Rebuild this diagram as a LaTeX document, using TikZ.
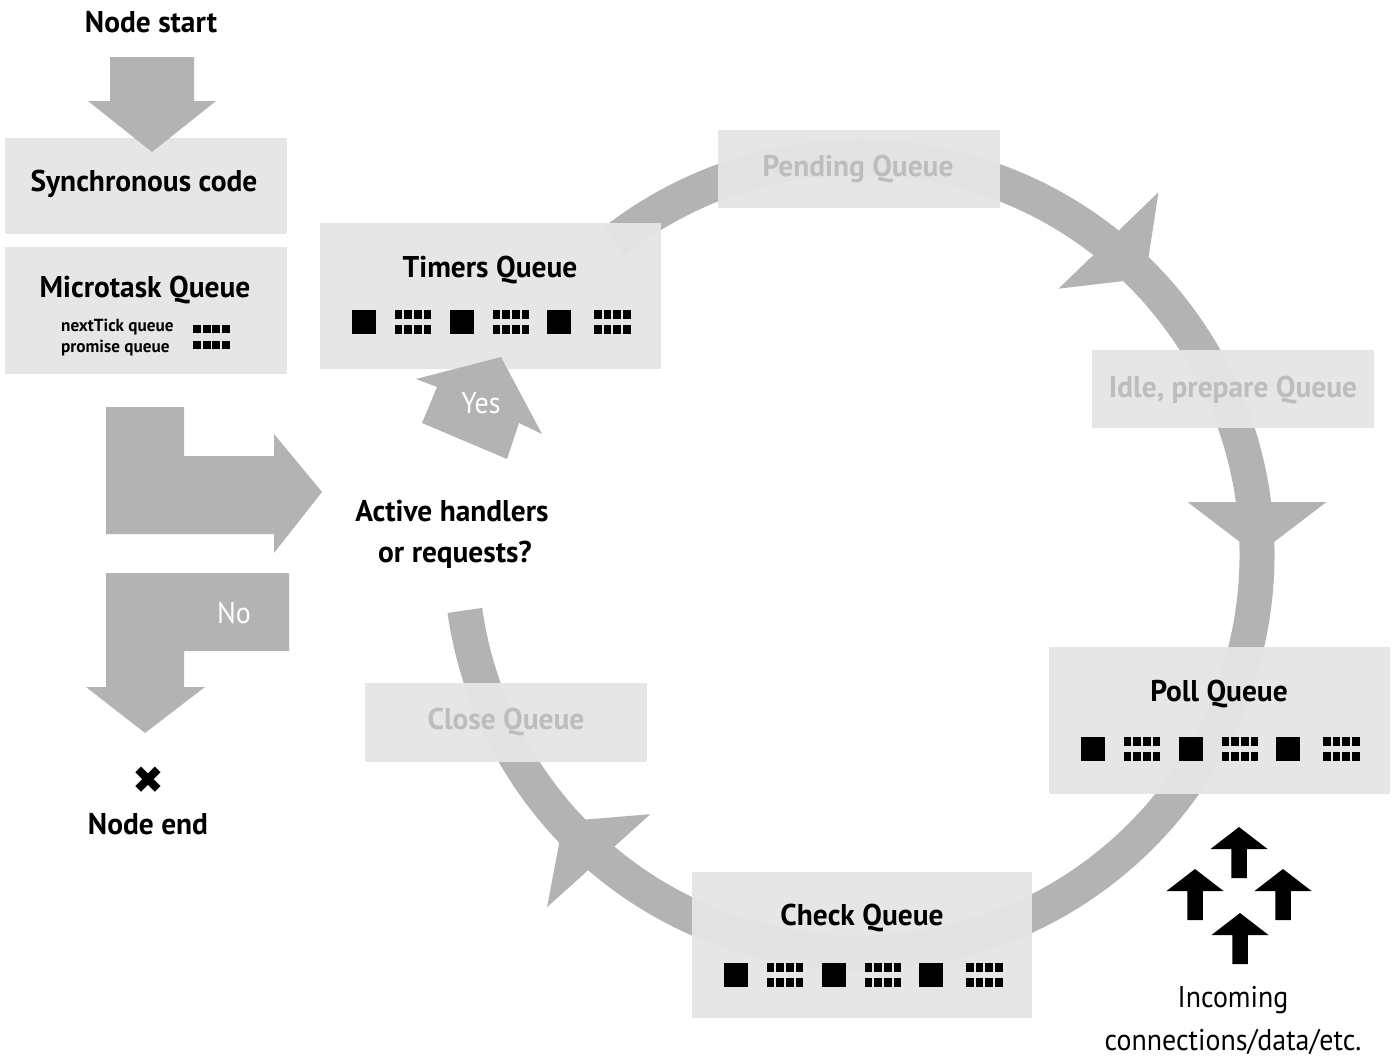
\documentclass[tikz,border=0pt]{standalone}
\usepackage{fontspec}
\setmainfont{PT Sans}[FakeStretch=0.98]
\newfontfamily\regfont{PT Sans}[FakeStretch=0.93]
\newfontfamily\symfont{DejaVu Sans}
\usetikzlibrary{calc}
\definecolor{arrowgray}{RGB}{179,179,179}
\definecolor{boxgray}{RGB}{229,229,229}
\definecolor{fadetext}{RGB}{189,189,189}
\tikzset{
  qbox/.style={fill=boxgray, fill opacity=0.97, draw=none, inner sep=0pt, rectangle, anchor=north west},
  ttl/.style={font=\fontsize{30}{36}\selectfont\bfseries, inner sep=0pt, anchor=base},
  fadettl/.style={ttl, text=fadetext},
  plaintxt/.style={font=\regfont\fontsize{30}{36}\selectfont, inner sep=0pt, anchor=base},
  smalltxt/.style={font=\fontsize{17.5}{21}\selectfont\bfseries, inner sep=0pt, anchor=base west},
  grayarrow/.style={fill=arrowgray, draw=none},
  circhead/.style={fill=arrowgray, draw=none},
}
\newcommand\qblocks[2]{%
  \foreach \dx in {0,97.5,195}{\fill ({#1+\dx},#2) rectangle ++(24,24);}
  \foreach \dx in {42.5,140.5,242}{%
    \foreach \k in {0,1,2,3}{%
      \fill ({#1+\dx+\k*9.7},#2) rectangle ++(7.7,9.4);
      \fill ({#1+\dx+\k*9.7},{#2+15}) rectangle ++(7.7,9.2);}}}
\newcommand\minirow[2]{%
  \foreach \k in {0,1,2,3}{\fill ({#1+\k*9.5},#2) rectangle ++(8,7.5);}}
\newcommand\blackup[2]{%
  \fill (#1,#2) -- ++(28.5,22) -- ++(-20.75,0) -- ++(0,29) -- ++(-15.5,0) -- ++(0,-29) -- ++(-20.75,0) -- cycle;}
\newcommand\circhead[1]{%
  \coordinate (T#1) at ($(C)+(#1:398pt)$);
  \coordinate (B#1) at ($(T#1)+(#1+90:53pt)$);
  \fill[circhead] (T#1) -- ($(B#1)+(#1:69.5pt)$) -- ($(B#1)+(#1+180:69.5pt)$) -- cycle;}
\begin{document}
\begin{tikzpicture}[x=1pt,y=-1pt]
\useasboundingbox (0,0) rectangle (1400,1060);
% ---- loop circle
\coordinate (C) at (859,555);
\draw[arrowgray, line width=35pt] ($(C)+(128:398pt)$) arc[start angle=128, end angle=-172, radius=398pt];
\circhead{44}
\circhead{0}
\circhead{222}
% ---- boxes
\node[qbox, minimum width=282pt, minimum height=96pt] (sync) at (5,138) {};
\node[qbox, minimum width=282pt, minimum height=127pt] (micro) at (5,247) {};
\node[qbox, minimum width=341pt, minimum height=146pt] (timers) at (320,223) {};
\node[qbox, minimum width=282pt, minimum height=78pt] (pending) at (718,130) {};
\node[qbox, minimum width=282pt, minimum height=78pt] (idle) at (1092,350) {};
\node[qbox, minimum width=341pt, minimum height=147pt] (poll) at (1049,647) {};
\node[qbox, minimum width=340pt, minimum height=146pt] (check) at (692,872) {};
\node[qbox, minimum width=282pt, minimum height=79pt] (close) at (365,683) {};
% ---- texts
\node[ttl] (nstart) at (151,32) {Node start};
\node[ttl] (synct) at (144,191) {Synchronous code};
\node[ttl] (microt) at (145,297) {Microtask Queue};
\node[smalltxt] (ntq) at (61,331) {nextTick queue};
\node[smalltxt] (prq) at (61,352) {promise queue};
\minirow{193}{325}
\minirow{193}{341}
\node[ttl] (timerst) at (490,277) {Timers Queue};
\qblocks{352}{310}
\node[fadettl] (pendingt) at (858,176) {Pending Queue};
\node[fadettl] (idlet) at (1233,397) {Idle, prepare Queue};
\node[ttl] (pollt) at (1219,701) {Poll Queue};
\qblocks{1081}{737}
\node[ttl] (checkt) at (862,925) {Check Queue};
\qblocks{724}{963}
\node[fadettl] (closet) at (506,729) {Close Queue};
\node[ttl] (active1) at (452,521) {Active handlers};
\node[ttl] (active2) at (455,562) {or requests?};
\node[ttl] (nend) at (148,834) {Node end};
\node[font=\symfont\fontsize{38}{38}\selectfont, inner sep=0pt] (xmark) at (148,780) {✖};
\node[plaintxt] (inc1) at (1233,1007) {Incoming};
\node[plaintxt] (inc2) at (1233,1050) {connections/data/etc.};
% ---- gray flow arrows
\fill[grayarrow] (110,57) -- (194,57) -- (194,101) -- (216,101) -- (152,152) -- (88,101) -- (110,101) -- cycle;
\fill[grayarrow] (106,407) -- (184,407) -- (184,456) -- (274,456) -- (274,434) -- (322,492) -- (274,553) -- (274,534) -- (106,534) -- cycle;
\fill[grayarrow] (106,573) -- (289,573) -- (289,651) -- (184,651) -- (184,687) -- (205,687) -- (145,733) -- (86,687) -- (106,687) -- cycle;
\fill[grayarrow] (501,357) -- (542,434) -- (519,423) -- (507,459) -- (422,423) -- (437,387) -- (416,379) -- cycle;
\node[plaintxt, text=white] (yes) at (481,413) {Yes};
\node[plaintxt, text=white] (no) at (234,623) {No};
% ---- incoming arrows
\blackup{1239}{827}
\blackup{1195}{869}
\blackup{1283}{869}
\blackup{1240}{913}
\end{tikzpicture}
\end{document}
